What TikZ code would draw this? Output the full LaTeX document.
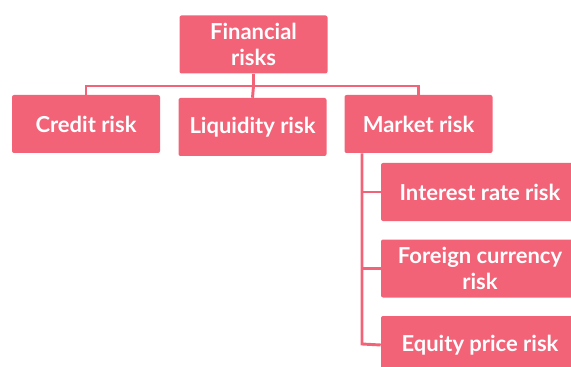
\documentclass[tikz,border=0pt]{standalone}
\usepackage{fontspec}
\setmainfont{Lato}
\usetikzlibrary{positioning}
\definecolor{riskpink}{HTML}{F26378}

\begin{document}
\begin{tikzpicture}[
	x=0.75pt, y=-0.75pt,
	box/.style={fill=riskpink, text=white, rounded corners=1.5pt, inner sep=0pt,
		minimum width=111pt, minimum height=43.5pt, align=center,
		font=\bfseries\fontsize{16.5}{19}\selectfont},
	widebox/.style={box, minimum width=148.5pt},
	link/.style={draw=riskpink, line width=2.2pt}
	]
	\clip (0,0) rectangle (571,367);
	\node [box,name=fin] (fin) at (253.5,44.5) {Financial\\risks};
	\node [box,name=credit] (credit) at (86,124) {Credit risk};
	\node [box,name=liq] (liq) at (252.5,127) {Liquidity risk};
	\node [box,name=market] (market) at (418.5,124) {Market risk};
	\node [widebox,name=interest] (interest) at (480,192) {Interest rate risk};
	\node [widebox,name=foreign] (foreign) at (480,268.5) {Foreign currency\\risk};
	\node [widebox,name=equity] (equity) at (480,345) {Equity price risk};
	% tree links
	\coordinate (bus) at (253.5,86);
	\coordinate (mdown) at (362,344);
	\draw [link] (fin.south) -- (bus) -- (liq.north);
	\draw [link] (credit.north) |- (bus) -| (market.north);
	\draw [link] (362,0 |- market.south) -- (mdown) -- (equity.west);
	\draw [link] (362,0 |- interest.west) -- (interest.west);
	\draw [link] (362,0 |- foreign.west) -- (foreign.west);
\end{tikzpicture}
\end{document}
